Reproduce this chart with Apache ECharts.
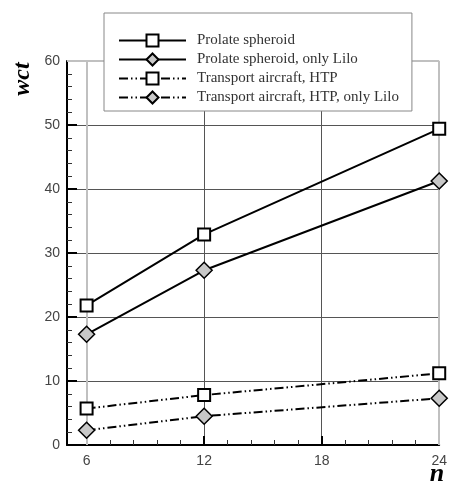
<!DOCTYPE html>
<html><head><meta charset="utf-8">
<script src="https://cdn.jsdelivr.net/npm/echarts@6/dist/echarts.min.js"></script>
<style>html,body{margin:0;padding:0;background:#fff}#c{width:450px;height:484px}</style>
</head><body><div id="c"></div>
<script>
const xValues = [6, 12, 18, 24];
const nValues = [6, 12, 24];
const seriesNames = ['Prolate spheroid', 'Prolate spheroid, only Lilo', 'Transport aircraft, HTP', 'Transport aircraft, HTP, only Lilo'];
const prolate = [21.8, 32.9, 49.4];
const prolateLilo = [17.3, 27.3, 41.25];
const transport = [5.7, 7.8, 11.2];
const transportLilo = [2.3, 4.5, 7.3];

const minorX = [];
for (let k = 1; k <= 15; k++) { const v = +(6 + 1.2 * k).toFixed(1); if (k % 5 !== 0 && v < 24) minorX.push(v); }

const dashDot = [9, 3, 1.5, 3, 1.5, 3];
const sqStyle = { color: '#fff', borderColor: '#000', borderWidth: 2 };
const dmStyle = { color: '#c8c8c8', borderColor: '#000', borderWidth: 1.5 };
function mk(name, vals, sym, dashed) {
  return {
    name, type: 'line', data: nValues.map((x, i) => [x, vals[i]]),
    symbol: sym === 'sq' ? 'rect' : 'diamond', symbolSize: sym === 'sq' ? 12 : 16,
    itemStyle: sym === 'sq' ? sqStyle : dmStyle,
    lineStyle: { color: '#000', width: 2, type: dashed ? dashDot : 'solid' },
    emphasis: { disabled: true }, z: 5, animation: false
  };
}
const series = [
  mk(seriesNames[0], prolate, 'sq', false),
  mk(seriesNames[1], prolateLilo, 'dm', false),
  mk(seriesNames[2], transport, 'sq', true),
  mk(seriesNames[3], transportLilo, 'dm', true)
];
series.push({
  type: 'line', data: [], silent: true, z: 1,
  markLine: { silent: true, symbol: 'none', label: { show: false }, animation: false,
    lineStyle: { color: '#c0c0c0', width: 2, type: 'solid' },
    data: [{ xAxis: 6 }, { xAxis: 24 }, { yAxis: 60 }] }
});

const chart = echarts.init(document.getElementById('c'), null, { renderer: 'canvas' });
chart.setOption({
  animation: false,
  grid: { left: 67, right: 7, top: 61, bottom: 39 },
  legend: {
    data: seriesNames, orient: 'vertical', left: 104, top: 13,
    backgroundColor: '#fff', borderColor: '#888', borderWidth: 1,
    padding: [20, 13, 6, 14], itemWidth: 67, itemHeight: 15, itemGap: 4,
    textStyle: { fontFamily: 'Liberation Serif', fontSize: 15, color: '#333', padding: [0, 0, 0, 6] },
    selectedMode: false, z: 10
  },
  xAxis: [{
    type: 'value', min: 5, max: 24,
    axisLine: { show: true, onZero: false, lineStyle: { color: '#000', width: 2 } },
    axisTick: { show: true, inside: true, length: 9, customValues: xValues, lineStyle: { color: '#000', width: 2 } },
    axisLabel: { customValues: xValues, fontFamily: 'Liberation Sans', fontSize: 14, color: '#444', margin: 9 },
    splitLine: { show: true, showMaxLine: false, lineStyle: { color: ['transparent', '#555', '#555', 'transparent'], width: 1 } }
  }, {
    type: 'value', min: 5, max: 24, position: 'bottom',
    axisLine: { show: false },
    axisTick: { show: true, inside: true, length: 5, customValues: minorX, lineStyle: { color: '#333', width: 1 } },
    axisLabel: { show: false }, splitLine: { show: false }
  }],
  yAxis: {
    type: 'value', min: 0, max: 60, interval: 10,
    axisLine: { show: true, lineStyle: { color: '#000', width: 2 } },
    axisTick: { show: true, inside: true, length: 10, lineStyle: { color: '#000', width: 2 } },
    minorTick: { show: true, splitNumber: 5, length: 5, lineStyle: { color: '#333', width: 1 } },
    axisLabel: { fontFamily: 'Liberation Sans', fontSize: 14, color: '#444', margin: 7 },
    splitLine: { show: true, showMinLine: false, showMaxLine: false, lineStyle: { color: '#555', width: 1 } }
  },
  graphic: [
    { type: 'text', x: 23, y: 79, rotation: Math.PI / 2,
      style: { text: 'wct', fontFamily: 'Liberation Serif', fontStyle: 'italic', fontWeight: 'bold', fontSize: 24, fill: '#000', align: 'center', verticalAlign: 'middle' } },
    { type: 'text', x: 437, y: 474,
      style: { text: 'n', fontFamily: 'Liberation Serif', fontStyle: 'italic', fontWeight: 'bold', fontSize: 26, fill: '#000', align: 'center', verticalAlign: 'middle' } }
  ],
  series
});
</script></body></html>
